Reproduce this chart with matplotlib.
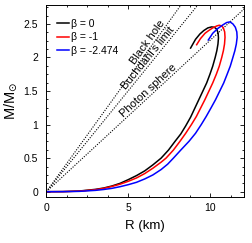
import matplotlib
matplotlib.use("Agg")
import matplotlib.pyplot as plt
import numpy as np
from matplotlib.ticker import MultipleLocator

plt.rcParams['font.family'] = ['Liberation Sans', 'DejaVu Sans']
plt.rcParams['mathtext.fontset'] = 'dejavusans'

# mass-radius curves (R in km, M in solar masses)
r_b0 = [0, 1, 2, 3, 3.5, 4, 4.5, 5, 5.5, 6, 6.5, 7.0, 7.45, 7.85, 8.2, 8.5,
        8.8, 9.05, 9.3, 9.55, 9.78, 9.98, 10.15, 10.3, 10.4, 10.47, 10.5,
        10.48, 10.4, 10.25, 10.08, 9.85, 9.6, 9.37, 9.1, 8.8]
m_b0 = [0, 0.0015, 0.01, 0.035, 0.055, 0.085, 0.125, 0.18, 0.24, 0.31, 0.40,
        0.50, 0.62, 0.75, 0.86, 0.98, 1.11, 1.24, 1.37, 1.5, 1.62, 1.75,
        1.87, 2.0, 2.1, 2.2, 2.29, 2.36, 2.42, 2.45, 2.455, 2.44, 2.40, 2.35,
        2.27, 2.14]

r_b1 = [0, 1, 2, 3, 3.5, 4, 4.5, 5, 5.5, 6, 6.5, 7, 7.3, 7.75, 8.15, 8.5,
        8.85, 9.15, 9.42, 9.67, 9.92, 10.15, 10.37, 10.55, 10.7, 10.8, 10.87,
        10.9, 10.88, 10.8, 10.7, 10.55, 10.4, 10.15, 9.9, 9.68, 9.4, 9.17]
m_b1 = [0, 0.001, 0.008, 0.03, 0.05, 0.078, 0.112, 0.155, 0.205, 0.27, 0.35,
        0.44, 0.5, 0.62, 0.75, 0.87, 1.0, 1.12, 1.25, 1.37, 1.5, 1.62, 1.75,
        1.87, 2.0, 2.1, 2.2, 2.3, 2.38, 2.44, 2.47, 2.48, 2.47, 2.44, 2.4,
        2.36, 2.28, 2.19]

r_b2 = [0, 1, 2, 3, 3.5, 4, 4.5, 5, 5.5, 6, 6.5, 7, 7.4, 7.75, 8.2, 8.7,
        9.1, 9.45, 9.75, 10.05, 10.32, 10.58, 10.82, 11.03, 11.22, 11.38,
        11.5, 11.59, 11.64, 11.62, 11.53, 11.38, 11.2, 11.0, 10.8, 10.45,
        10.15, 9.88]
m_b2 = [0, 0.001, 0.005, 0.02, 0.033, 0.05, 0.075, 0.105, 0.14, 0.19, 0.25,
        0.33, 0.41, 0.5, 0.62, 0.75, 0.87, 1.0, 1.12, 1.25, 1.37, 1.5, 1.62,
        1.75, 1.87, 2.0, 2.1, 2.2, 2.3, 2.38, 2.45, 2.5, 2.53, 2.52, 2.49,
        2.43, 2.36, 2.26]

betas = ['0', '-1', '-2.474']
colors = ['black', 'red', 'blue']

# R = k * M (km per solar mass) for the limit lines
k_bh = 2.953
k_buch = 3.322
k_photon = 4.43

fig = plt.figure(figsize=(2.52, 2.43), dpi=100)
ax = fig.add_axes([0.184, 0.189, 0.785, 0.790])

r_line = np.array([0, 13])
dots = (0, (1, 1.3))
ax.plot(r_line, r_line / k_bh, color='black', lw=0.8, ls=dots)
ax.plot(r_line, r_line / k_buch, color='black', lw=0.8, ls=dots)
ax.plot(r_line, r_line / k_photon, color='black', lw=0.8, ls=dots)

curves = [(r_b0, m_b0), (r_b1, m_b1), (r_b2, m_b2)]
for (r, m), b, c in zip(curves, betas, colors):
    ax.plot(r, m, color=c, lw=1.1, label='β = ' + b)

ax.set_xlim(0, 12.07)
ax.set_ylim(-0.08, 2.78)

# labels along the lines
for text, k, rpos in [('Black hole', k_bh, 6.45),
                      ("Buchdahl's limit", k_buch, 6.45),
                      ('Photon sphere', k_photon, 6.4)]:
    p = ax.transData.transform([(0, 0), (1, 1 / k)])
    ang = np.degrees(np.arctan2(p[1, 1] - p[0, 1], p[1, 0] - p[0, 0]))
    ax.text(rpos, rpos / k, text, rotation=ang, rotation_mode='anchor',
            ha='center', va='bottom', fontsize=8)

ax.xaxis.set_major_locator(MultipleLocator(5))
ax.xaxis.set_minor_locator(MultipleLocator(1.25))
ax.yaxis.set_minor_locator(MultipleLocator(0.125))
ax.set_yticks([0, 0.5, 1, 1.5, 2, 2.5])
ax.set_yticklabels(['0', '0.5', '1', '1.5', '2', '2.5'])
ax.tick_params(which='both', direction='in', top=True, right=True,
               labelsize=7.5, width=0.6)
ax.tick_params(which='major', length=3)
ax.tick_params(which='minor', length=1.5)
ax.tick_params(axis='y', pad=6)
ax.tick_params(axis='x', pad=4)
for s in ax.spines.values():
    s.set_linewidth(0.7)

ax.set_xlabel('R (km)', fontsize=9.5, labelpad=5)
ax.set_ylabel(r'M/M$_{\odot}$', fontsize=10.5, labelpad=3)

ax.legend(loc='upper left', bbox_to_anchor=(0.055, 0.93), frameon=False,
          fontsize=7.5, handlelength=1.1, handletextpad=0.25,
          labelspacing=0.35, borderpad=0, borderaxespad=0)

fig.savefig('out.png', dpi=100)
